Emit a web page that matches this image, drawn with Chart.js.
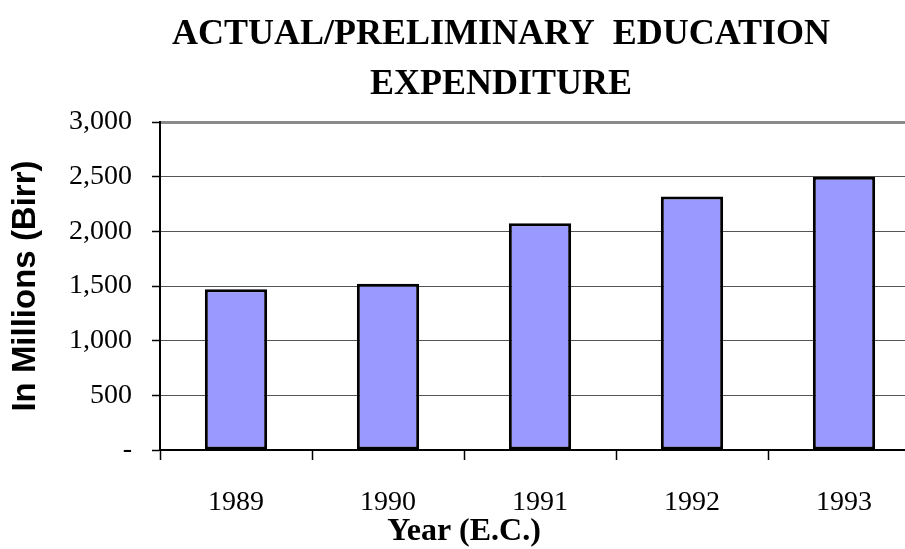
<!DOCTYPE html>
<html>
<head>
<meta charset="utf-8">
<script src="https://cdn.jsdelivr.net/npm/chart.js@4"></script>
<style>
  html, body { margin: 0; padding: 0; overflow: hidden; background: #fff; }
  #wrap { width: 1002px; height: 549px; }
</style>
</head>
<body>
<div id="wrap"><canvas id="chart"></canvas></div>
<script>
  // Data
  const years = ['1989', '1990', '1991', '1992', '1993'];
  const expenditure = [1470, 1520, 2075, 2320, 2500];
  const titleLines = ['ACTUAL/PRELIMINARY  EDUCATION', 'EXPENDITURE'];
  const yTitle = 'In Millions (Birr)';
  const xTitle = 'Year (E.C.)';

  const serif = '"Liberation Serif", "Times New Roman", serif';

  // the original title is not centred on the canvas, nudge its box
  const titleShift = {
    id: 'titleShift',
    afterLayout(chart) {
      if (chart.titleBlock) chart.titleBlock.left += 82;
    }
  };

  // x axis title sits under the 1990/1991 boundary in the original
  const xTitlePlugin = {
    id: 'xTitle',
    afterDraw(chart) {
      const x = chart.scales.x;
      const ctx = chart.ctx;
      ctx.save();
      ctx.font = 'bold 32px ' + serif;
      ctx.fillStyle = '#000';
      ctx.textAlign = 'center';
      ctx.textBaseline = 'middle';
      ctx.fillText(xTitle, x.getPixelForValue(1.5), 532);
      ctx.restore();
    }
  };

  const ctx = document.getElementById('chart').getContext('2d');
  new Chart(ctx, {
    type: 'bar',
    data: {
      labels: years,
      datasets: [{
        data: expenditure,
        backgroundColor: '#9999FF',
        borderColor: '#000',
        borderWidth: 3,
        borderSkipped: false,
        barPercentage: 0.41,
        categoryPercentage: 1
      }]
    },
    options: {
      responsive: true,
      maintainAspectRatio: false,
      animation: false,
      layout: { padding: { left: 0, right: 82, top: 0, bottom: 29 } },
      plugins: {
        legend: { display: false },
        tooltip: { enabled: false },
        title: {
          display: true,
          text: titleLines,
          color: '#000',
          font: { family: serif, size: 36, weight: 'bold', lineHeight: 1.39 },
          padding: { top: 10, bottom: 12 }
        }
      },
      scales: {
        x: {
          offset: true,
          afterFit: s => { s.height = 70; },
          grid: {
            offset: true,
            drawOnChartArea: false,
            tickLength: 10,
            tickColor: '#000',
            tickWidth: 1.5
          },
          border: { color: '#000', width: 2 },
          ticks: {
            color: '#000',
            padding: 26,
            font: { family: serif, size: 28 }
          }
        },
        y: {
          min: 0,
          max: 3000,
          afterFit: s => { s.width = 160; },
          grid: {
            color: c => c.tick && c.tick.value === 3000 ? '#8a8a8a' : '#555',
            lineWidth: c => c.tick && c.tick.value === 3000 ? 3 : 1,
            tickLength: 8,
            tickColor: '#000',
            tickWidth: 1.5
          },
          border: { color: '#000', width: 2 },
          ticks: {
            stepSize: 500,
            color: '#000',
            padding: 20,
            font: { family: serif, size: 28 },
            callback: v => v === 0 ? '-' : v.toLocaleString('en-US')
          },
          title: {
            display: true,
            text: yTitle,
            color: '#000',
            font: { family: '"Liberation Sans", Arial, sans-serif', size: 33, weight: 'bold' },
            padding: { top: 6, bottom: 0 }
          }
        }
      }
    },
    plugins: [titleShift, xTitlePlugin]
  });
</script>
</body>
</html>
